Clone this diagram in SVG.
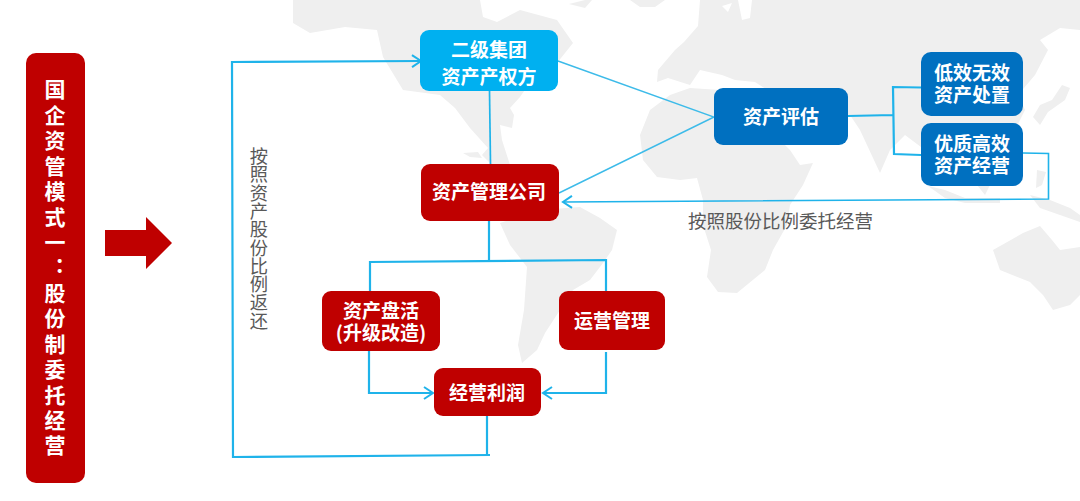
<svg xmlns="http://www.w3.org/2000/svg" width="1080" height="501" viewBox="0 0 1080 501">
<style>
.red{fill:#bf0000}.sky{fill:#00b0f0}.blue{fill:#0070c0}
text{font-family:"Noto Sans CJK SC","Noto Sans",sans-serif}
.t{fill:#fff;font-size:19px;font-weight:700;text-anchor:middle;dominant-baseline:central}
.v{fill:#fff;font-size:21px;font-weight:700;writing-mode:vertical-rl;text-orientation:upright;letter-spacing:4.430px}
.g{fill:#595959;font-size:18.500px;font-weight:400}
.c{fill:none;stroke:#1fb3ea;stroke-width:2.200}
.n{fill:none;stroke:#3dbbe9;stroke-width:1.400}
.land{fill:#efefef}
</style>
<defs>
<filter id="soft" x="-5%" y="-5%" width="110%" height="110%"><feGaussianBlur stdDeviation="0.7"/></filter>
<marker id="a" markerUnits="userSpaceOnUse" markerWidth="14" markerHeight="16" refX="11" refY="7" orient="auto" viewBox="0 0 14 14"><path d="M2 1L11 7L2 13" fill="none" stroke="#1fb3ea" stroke-width="2"/></marker>
</defs>
<rect width="1080" height="501" fill="#fff"/>
<g id="map" class="land" filter="url(#soft)">
<path d="M293 0L293 23L310 33L345 27L377 30L383 57L403 90L440 95L455 108L470 128L488 148L482 155L492 165L510 165L502 140L500 125L512 128L514 115L510 108L520 97L535 75L557 63L573 43L557 20L520 10L497 22L483 17L480 0Z"/>
<path d="M500 223L540 210L580 207L600 218L617 230L612 250L603 263L590 280L573 290L560 310L545 333L537 350L522 363L518 345L524 310L527 267L510 245Z"/>
<path d="M463 153L478 152L482 158L470 157Z"/>
<path d="M569 4L585 0L592 0L585 8ZM630 0L665 0L655 7L640 7Z"/>
<path d="M700 0L698 26L684 42L675 50L658 70L657 82L668 78L690 85L700 70L722 75L735 80L755 82L775 95L790 118L780 140L790 150L800 165L813 163L803 185L790 205L787 225L773 250L765 270L737 293L718 292L707 277L711 250L703 225L703 200L697 178L680 180L657 177L643 160L640 135L650 110L670 95L690 88L720 90L765 95L790 120L815 115L850 115L860 130L880 173L890 150L905 135L925 150L945 165L965 170L985 195L995 175L1000 160L1015 130L1025 110L1018 95L1035 75L1048 50L1040 40L1060 28L1080 30L1080 0Z"/>
<path d="M1033 117L1040 105L1052 100L1062 85L1070 88L1065 100L1048 112L1040 125Z"/>
<path d="M1037 170L1046 172L1042 185L1036 188Z"/>
<path d="M928 186L945 190L965 198L1000 198L1000 203L965 203L945 198Z"/>
<path d="M1030 195L1050 200L1070 208L1080 215L1080 222L1060 215L1040 208Z"/>
<path d="M993 250L1023 233L1040 226L1052 240L1060 250L1080 247L1080 295L1070 305L1053 310L1043 295L1030 282L1000 270Z"/>
<path fill="#fff" d="M738 0L752 0L750 18L742 20ZM732 3L728 12L722 6Z"/>
</g>
<g id="connectors">
<path class="c" d="M487 416V455"/>
<path class="c" marker-end="url(#a)" d="M490 455L233 457L232 62L421 61"/>
<path class="c" style="stroke-width:1.700" d="M489.500 91L490.500 164"/>
<path class="n" d="M558 61L714 117L559 193"/>
<path class="c" d="M848 116L893 115M921 87.500L893 87L894 154L921 155"/>
<path class="c" style="stroke-width:1.600" marker-end="url(#a)" d="M1023 153L1048.500 153.500V199L563 202"/>
<path class="c" d="M489 221V261M370 291V262L606 260V291"/>
<path class="c" marker-end="url(#a)" d="M369 351V393H433"/>
<path class="c" marker-end="url(#a)" d="M606 352V393H543"/>
</g>
<g id="title"><rect class="red" x="26" y="53" width="59" height="430" rx="10"/>
<text class="v" x="55" y="79">国企资管模式一：股份制委托经营</text></g>
<g id="big-arrow"><path class="red" d="M105 230H146V217L172 243L146 269V256H105Z"/></g>
<g id="group-owner"><rect class="sky" x="420" y="30" width="138" height="61" rx="9"/><text class="t"><tspan x="489" y="47.500">二级集团</tspan><tspan x="489" y="74.500">资产产权方</tspan></text></g>
<g id="asset-manager"><rect class="red" x="421" y="164" width="138" height="57" rx="9"/><text class="t" x="489" y="190.500">资产管理公司</text></g>
<g id="assessment"><rect class="blue" x="714" y="88" width="134" height="57" rx="9"/><text class="t" x="781" y="115.500">资产评估</text></g>
<g id="low-efficiency"><rect class="blue" x="921" y="52" width="102" height="64" rx="10"/><text class="t"><tspan x="972" y="70.500">低效无效</tspan><tspan x="972" y="92.500">资产处置</tspan></text></g>
<g id="high-quality"><rect class="blue" x="921" y="123" width="102" height="63" rx="10"/><text class="t"><tspan x="972" y="141.500">优质高效</tspan><tspan x="972" y="163.500">资产经营</tspan></text></g>
<g id="revitalize"><rect class="red" x="322" y="291" width="118" height="60" rx="9"/><text class="t"><tspan x="381" y="308.500">资产盘活</tspan><tspan x="381" y="330.500">(升级改造)</tspan></text></g>
<g id="operations"><rect class="red" x="559" y="291" width="106" height="59" rx="9"/><text class="t" x="612" y="319.500">运营管理</text></g>
<g id="profit"><rect class="red" x="434" y="368" width="107" height="48" rx="9"/><text class="t" x="487" y="391.500">经营利润</text></g>
<text class="g" x="688" y="228">按照股份比例委托经营</text>
<text class="g" x="259" y="147" style="writing-mode:vertical-rl;font-size:18.300px">按照资产股份比例返还</text>
</svg>
